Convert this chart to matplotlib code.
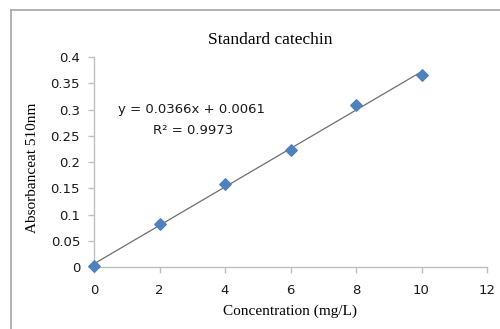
import matplotlib
matplotlib.use('Agg')
import matplotlib.pyplot as plt
from matplotlib.lines import Line2D
import numpy as np

concentration = [0, 2, 4, 6, 8, 10]
absorbance = [0.001, 0.082, 0.159, 0.222, 0.309, 0.365]
slope, intercept = 0.0366, 0.0061
x_ticks = [0, 2, 4, 6, 8, 10, 12]
y_ticks = [0, 0.05, 0.1, 0.15, 0.2, 0.25, 0.3, 0.35, 0.4]

fig = plt.figure(figsize=(5, 3.29), dpi=100)
ax = fig.add_axes([0.188, 0.1884, 0.786, 0.6383])

# trendline
xs = np.array([concentration[0], concentration[-1]])
ax.plot(xs, slope * xs + intercept, color='#6e6e6e', linewidth=0.9, zorder=2)
ax.scatter(concentration, absorbance, marker='D', s=34, color='#4F81BD',
           edgecolors='#4F81BD', zorder=3, clip_on=False)

ax.set_xlim(0, 12)
ax.set_ylim(0, 0.4)
ax.set_xticks(x_ticks)
ax.set_yticks(y_ticks)
ax.set_xticklabels([str(t) for t in x_ticks])
ax.set_yticklabels(['0', '0.05', '0.1', '0.15', '0.2', '0.25', '0.3', '0.35', '0.4'])

for s in ['top', 'right']:
    ax.spines[s].set_visible(False)
for s in ['left', 'bottom']:
    ax.spines[s].set_color('#bfbfbf')
    ax.spines[s].set_linewidth(1.0)
ax.tick_params(axis='both', colors='#bfbfbf', labelcolor='#1a1a1a',
               labelsize=9.5, length=4, width=1.0, direction='out')
ax.tick_params(axis='x', pad=8)
ax.tick_params(axis='y', pad=6)

serif = 'Liberation Serif'
fig.text(270 / 500, 1 - 40 / 329, 'Standard catechin', family=serif,
         fontsize=12.5, ha='center', va='center')
fig.text(290 / 500, 1 - 311 / 329, 'Concentration (mg/L)', family=serif,
         fontsize=11, ha='center', va='center')
fig.text(33 / 500, 1 - 168 / 329, 'Absorbanceat 510nm', family=serif,
         fontsize=11, rotation=90, ha='center', va='center')

fig.text(192 / 500, 1 - 110 / 329, 'y = 0.0366x + 0.0061', fontsize=9.5,
         ha='center', va='center', color='#1a1a1a')
fig.text(193 / 500, 1 - 130 / 329, 'R² = 0.9973', fontsize=9.5,
         ha='center', va='center', color='#1a1a1a')

# outer chart frame (partially visible)
fig.add_artist(Line2D([11 / 500, 11 / 500], [0, 1 - 10 / 329],
                      transform=fig.transFigure, color='#a6a6a6', linewidth=1.2))
fig.add_artist(Line2D([11 / 500, 1], [1 - 10 / 329, 1 - 10 / 329],
                      transform=fig.transFigure, color='#a6a6a6', linewidth=1.2))

fig.savefig('out.png', dpi=100)
